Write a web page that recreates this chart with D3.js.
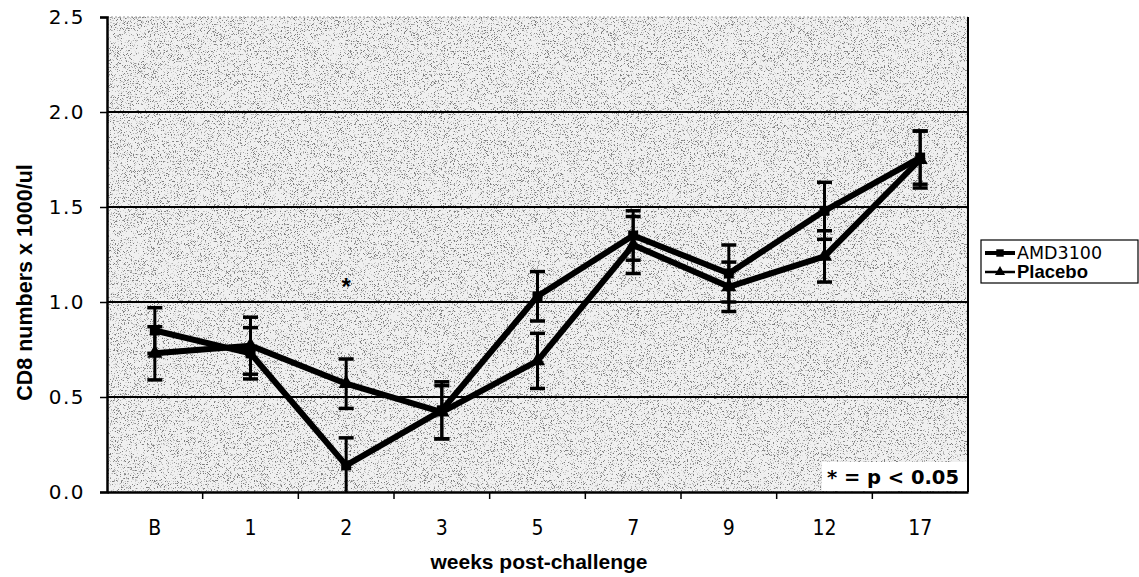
<!DOCTYPE html>
<html>
<head>
<meta charset="utf-8">
<script src="https://cdn.jsdelivr.net/npm/d3@7"></script>
<style>
  html, body { margin: 0; padding: 0; background: #fff; }
  svg { display: block; }
</style>
</head>
<body>
<svg id="chart" width="1139" height="577"></svg>
<script>
// Weeks after challenge (B = baseline)
const weeks = ["B", "1", "2", "3", "5", "7", "9", "12", "17"];

// Mean CD8 counts (x 1000/ul) and standard errors per group
const amdMean = [0.85, 0.73, 0.14, 0.43, 1.03, 1.35, 1.15, 1.48, 1.76];
const amdErr  = [0.12, 0.135, 0.145, 0.15, 0.13, 0.13, 0.15, 0.15, 0.14];
const plaMean = [0.73, 0.77, 0.57, 0.42, 0.69, 1.30, 1.08, 1.24, 1.75];
const plaErr  = [0.14, 0.15, 0.13, 0.14, 0.145, 0.15, 0.13, 0.135, 0.15];

const yTicks = [0, 0.5, 1.0, 1.5, 2.0, 2.5];
const gridValues = [0.5, 1.0, 1.5, 2.0];

// Weeks with a significant difference, and where the asterisk sits
const sigWeeks = ["2"];
const sigLevel = 1.1;

const seriesNames = ["AMD3100", "Placebo"];

const svg = d3.select("#chart");
const plotLeft = 107, plotRight = 968, plotTop = 17, plotBottom = 492;

const x = d3.scaleBand().domain(weeks).range([plotLeft, plotRight]);
const y = d3.scaleLinear().domain([0, 2.5]).range([plotBottom, plotTop]);
const cx = w => x(w) + x.bandwidth() / 2;

// Speckled plot-area fill
const defs = svg.append("defs");
const f = defs.append("filter").attr("id", "grain")
  .attr("x", 0).attr("y", 0).attr("width", 1).attr("height", 1);
f.append("feTurbulence").attr("type", "fractalNoise")
  .attr("baseFrequency", 1.3).attr("numOctaves", 2).attr("seed", 7).attr("result", "n");
f.append("feColorMatrix").attr("in", "n").attr("type", "matrix")
  .attr("values", "0 0 0 0 0.2  0 0 0 0 0.2  0 0 0 0 0.2  8 0 0 0 -4.6");

svg.append("rect").attr("x", plotLeft).attr("y", plotTop)
  .attr("width", plotRight - plotLeft).attr("height", plotBottom - plotTop).attr("fill", "#f0f0f0");
svg.append("rect").attr("x", plotLeft).attr("y", plotTop)
  .attr("width", plotRight - plotLeft).attr("height", plotBottom - plotTop)
  .attr("fill", "#000").attr("filter", "url(#grain)");

// Horizontal gridlines
svg.append("g").selectAll("line").data(gridValues).join("line")
  .attr("x1", plotLeft).attr("x2", plotRight)
  .attr("y1", d => y(d)).attr("y2", d => y(d))
  .attr("stroke", "#000").attr("stroke-width", 2);

// Plot frame: faint top, solid right
svg.append("line").attr("x1", plotLeft).attr("x2", plotRight).attr("y1", plotTop).attr("y2", plotTop)
  .attr("stroke", "#999").attr("stroke-width", 1).attr("stroke-dasharray", "2,2");
svg.append("line").attr("x1", plotRight).attr("x2", plotRight).attr("y1", plotTop).attr("y2", plotBottom)
  .attr("stroke", "#000").attr("stroke-width", 2);

// Y axis
const yAxis = svg.append("g").attr("transform", `translate(${plotLeft},0)`)
  .call(d3.axisLeft(y).tickValues(yTicks).tickFormat(d3.format(".1f")).tickSize(7).tickPadding(15));
yAxis.select(".domain").attr("stroke-width", 2.5);
yAxis.selectAll(".tick line").attr("stroke-width", 1.5);
yAxis.selectAll("text").attr("font-family", "DejaVu Sans, Verdana, sans-serif")
  .attr("font-size", 20).attr("letter-spacing", 1.5).attr("fill", "#000");

// X axis: labels centred in each band, ticks on band boundaries
const xAxis = svg.append("g").attr("transform", `translate(0,${plotBottom})`)
  .call(d3.axisBottom(x).tickSize(0).tickPadding(28));
xAxis.select(".domain").attr("stroke-width", 2.5);
xAxis.selectAll("text").attr("font-family", "DejaVu Sans Condensed, DejaVu Sans, sans-serif")
  .attr("font-size", 21).attr("fill", "#000");
svg.append("g").selectAll("line").data(weeks.slice(1)).join("line")
  .attr("x1", d => x(d)).attr("x2", d => x(d))
  .attr("y1", plotBottom).attr("y2", plotBottom + 7)
  .attr("stroke", "#000").attr("stroke-width", 1.5);

// Axis titles
svg.append("text").attr("transform", `translate(32,${(plotTop + plotBottom) / 2 + 28}) rotate(-90)`)
  .attr("text-anchor", "middle").attr("font-family", "Liberation Sans, Arial, sans-serif")
  .attr("font-weight", "bold").attr("font-size", 21.5).text("CD8 numbers x 1000/ul");
svg.append("text").attr("x", 539).attr("y", 569)
  .attr("text-anchor", "middle").attr("font-family", "Liberation Sans, Arial, sans-serif")
  .attr("font-weight", "bold").attr("font-size", 21).text("weeks post-challenge");

// Series
const series = [
  { name: seriesNames[0], mean: amdMean, err: amdErr, marker: d3.symbolSquare, size: 100 },
  { name: seriesNames[1], mean: plaMean, err: plaErr, marker: d3.symbolTriangle, size: 100 }
];

const line = d3.line().x(d => cx(d.w)).y(d => y(d.v));

series.forEach(s => {
  const pts = weeks.map((w, i) => ({ w, v: s.mean[i], e: s.err[i] }));
  const g = svg.append("g");
  // error bars
  g.selectAll("line.eb").data(pts).join("line").attr("class", "eb")
    .attr("x1", d => cx(d.w)).attr("x2", d => cx(d.w))
    .attr("y1", d => y(Math.max(0, d.v - d.e))).attr("y2", d => y(d.v + d.e))
    .attr("stroke", "#000").attr("stroke-width", 3);
  g.selectAll("line.capt").data(pts).join("line").attr("class", "capt")
    .attr("x1", d => cx(d.w) - 7.5).attr("x2", d => cx(d.w) + 7.5)
    .attr("y1", d => y(d.v + d.e)).attr("y2", d => y(d.v + d.e))
    .attr("stroke", "#000").attr("stroke-width", 3.5);
  g.selectAll("line.capb").data(pts.filter(d => d.v - d.e > 0)).join("line").attr("class", "capb")
    .attr("x1", d => cx(d.w) - 7.5).attr("x2", d => cx(d.w) + 7.5)
    .attr("y1", d => y(d.v - d.e)).attr("y2", d => y(d.v - d.e))
    .attr("stroke", "#000").attr("stroke-width", 3.5);
  // line
  g.append("path").datum(pts).attr("d", line)
    .attr("fill", "none").attr("stroke", "#000").attr("stroke-width", 6)
    .attr("stroke-linejoin", "round");
  // markers
  g.selectAll("path.m").data(pts).join("path").attr("class", "m")
    .attr("transform", d => `translate(${cx(d.w)},${y(d.v)})`)
    .attr("d", d3.symbol().type(s.marker).size(s.size))
    .attr("fill", "#000");
});

// Significance asterisk
svg.append("g").selectAll("text").data(sigWeeks).join("text")
  .attr("x", d => cx(d)).attr("y", y(sigLevel) + 12)
  .attr("text-anchor", "middle").attr("font-family", "Liberation Sans, Arial, sans-serif")
  .attr("font-weight", "bold").attr("font-size", 24).text("*");

// Note box
svg.append("rect").attr("x", 822).attr("y", 462).attr("width", 145).attr("height", 29).attr("fill", "#fff");
svg.append("text").attr("x", 959).attr("y", 484).attr("text-anchor", "end")
  .attr("font-family", "DejaVu Sans, Verdana, sans-serif").attr("font-weight", "bold")
  .attr("font-size", 19.5).text("* = p < 0.05");

// Legend
const lg = svg.append("g");
lg.append("rect").attr("x", 981).attr("y", 240).attr("width", 157).attr("height", 43)
  .attr("fill", "#fff").attr("stroke", "#000").attr("stroke-width", 1.2);
series.forEach((s, i) => {
  const ly = 253 + i * 19;
  lg.append("line").attr("x1", 985).attr("x2", 1015).attr("y1", ly).attr("y2", ly)
    .attr("stroke", "#000").attr("stroke-width", i === 0 ? 4 : 2.5);
  lg.append("path").attr("transform", `translate(1000,${ly})`)
    .attr("d", d3.symbol().type(s.marker).size(i === 0 ? 55 : 45)).attr("fill", "#000");
  lg.append("text").attr("x", 1017).attr("y", ly + 6)
    .attr("font-family", i === 0 ? "DejaVu Sans, Verdana, sans-serif" : "Liberation Sans, Arial, sans-serif")
    .attr("font-weight", i === 0 ? "normal" : "bold")
    .attr("font-size", i === 0 ? 17.5 : 18.5).text(s.name);
});
</script>
</body>
</html>
